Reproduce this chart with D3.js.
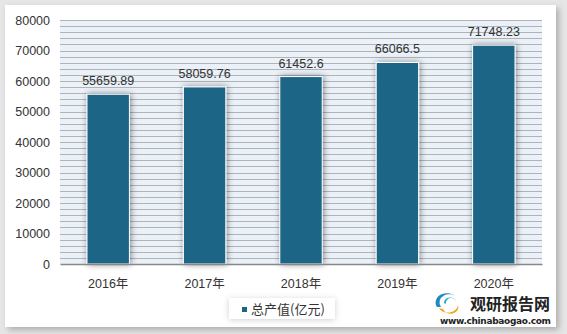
<!DOCTYPE html>
<html>
<head>
<meta charset="utf-8">
<script src="https://cdn.jsdelivr.net/npm/d3@7"></script>
<style>
  body { margin: 0; background: #e6e6e6; }
  svg { display: block; font-family: "Liberation Sans", Arial, sans-serif; }
</style>
</head>
<body>
<svg id="chart" width="567" height="334"></svg>
<script>
var years = ['2016年', '2017年', '2018年', '2019年', '2020年'];
var values = [55659.89, 58059.76, 61452.6, 66066.5, 71748.23];
var valueLabels = ['55659.89', '58059.76', '61452.6', '66066.5', '71748.23'];
var yTicks = [0, 10000, 20000, 30000, 40000, 50000, 60000, 70000, 80000];
var seriesName = '总产值(亿元)';

var svg = d3.select('#chart');
var defs = svg.append('defs');

var cardShadow = defs.append('filter').attr('id', 'cardShadow')
  .attr('x', '-5%').attr('y', '-5%').attr('width', '115%').attr('height', '115%');
cardShadow.append('feDropShadow').attr('dx', 3).attr('dy', 3)
  .attr('stdDeviation', 3).attr('flood-color', '#000').attr('flood-opacity', 0.25);

var barShadow = defs.append('filter').attr('id', 'barShadow')
  .attr('x', '-40%').attr('y', '-20%').attr('width', '180%').attr('height', '140%');
barShadow.append('feDropShadow').attr('dx', 1).attr('dy', 0)
  .attr('stdDeviation', 3).attr('flood-color', '#000').attr('flood-opacity', 0.45);

var legendShadow = defs.append('filter').attr('id', 'legendShadow')
  .attr('x', '-30%').attr('y', '-60%').attr('width', '160%').attr('height', '220%');
legendShadow.append('feDropShadow').attr('dx', 0).attr('dy', 1)
  .attr('stdDeviation', 3).attr('flood-color', '#000').attr('flood-opacity', 0.18);

// card
svg.append('rect').attr('x', 5).attr('y', 5).attr('width', 551).attr('height', 322)
  .attr('fill', '#fff').attr('filter', 'url(#cardShadow)');

var margin = { left: 60, right: 542, top: 20, bottom: 264 };

var x = d3.scaleBand().domain(years).range([margin.left, margin.right]).paddingInner(0.56).paddingOuter(0.28);
var y = d3.scaleLinear().domain([0, 80000]).range([margin.bottom, margin.top]);

// plot background
svg.append('rect').attr('x', margin.left).attr('y', margin.top)
  .attr('width', margin.right - margin.left).attr('height', margin.bottom - margin.top)
  .attr('fill', '#eaf1f9');

// grid lines every 2000
svg.append('g').selectAll('line').data(d3.range(2000, 80001, 2000)).join('line')
  .attr('x1', margin.left).attr('x2', margin.right)
  .attr('y1', d => Math.round(y(d)) + 0.5).attr('y2', d => Math.round(y(d)) + 0.5)
  .attr('stroke', '#b3b3b3').attr('stroke-width', 1);

// y axis labels
var yAxis = svg.append('g').attr('transform', 'translate(' + (margin.left - 10) + ',0)')
  .call(d3.axisLeft(y).tickValues(yTicks).tickSize(0).tickPadding(0).tickFormat(d3.format('d')));
yAxis.select('.domain').remove();
yAxis.selectAll('text').attr('font-size', 12.5).attr('fill', '#333')
  .attr('font-family', '"Liberation Sans", Arial, sans-serif');

// bars
svg.append('g').selectAll('rect').data(values).join('rect')
  .attr('x', (d, i) => x(years[i]))
  .attr('y', d => y(d))
  .attr('width', x.bandwidth())
  .attr('height', d => y(0) - y(d))
  .attr('fill', '#1c6587')
  .attr('stroke', '#fff').attr('stroke-width', 1)
  .attr('filter', 'url(#barShadow)');

// value labels
svg.append('g').selectAll('text').data(values).join('text')
  .attr('x', (d, i) => x(years[i]) + x.bandwidth() / 2)
  .attr('y', d => y(d) - 9)
  .attr('text-anchor', 'middle')
  .attr('font-size', 12.5).attr('fill', '#333')
  .text((d, i) => valueLabels[i]);

// x axis
var xAxis = svg.append('g').attr('transform', 'translate(0,' + margin.bottom + ')')
  .call(d3.axisBottom(x).tickSize(0).tickPadding(15));
xAxis.select('.domain').attr('stroke', '#888').attr('stroke-width', 1.5);
xAxis.selectAll('text').attr('font-size', 12.5).attr('fill', '#333')
  .attr('font-family', '"Liberation Sans", "Noto Sans CJK SC", sans-serif');

// legend
var legend = svg.append('g').attr('transform', 'translate(229,298)');
legend.append('rect').attr('width', 106).attr('height', 21).attr('fill', '#fff')
  .attr('filter', 'url(#legendShadow)');
legend.append('rect').attr('x', 13).attr('y', 9).attr('width', 5).attr('height', 5).attr('fill', '#1c6587');
legend.append('text').attr('x', 22).attr('y', 15.5).attr('font-size', 13).attr('fill', '#333')
  .attr('font-family', '"Noto Sans CJK SC", sans-serif').text(seriesName);

// watermark
var wm = svg.append('g').attr('transform', 'translate(436,294)');
wm.append('path').attr('d', 'M1,13 A11,9 0 0 1 21,4 A8,7 0 0 0 5,13 Z').attr('fill', '#1f8ac0');
wm.append('path').attr('d', 'M3,14 A10,8 0 0 0 22,11 A7,6 0 0 1 7,15 Z').attr('fill', '#f4a11d');
wm.append('path').attr('d', 'M8,9 A6,5 0 0 1 20,8 A4,4 0 0 0 10,10 Z').attr('fill', '#29a9d8');
wm.append('text').attr('x', 34).attr('y', 16).attr('font-size', 16).attr('font-weight', 'bold')
  .attr('fill', '#222').attr('font-family', '"Noto Sans CJK SC", sans-serif').text('观研报告网');
wm.append('text').attr('x', 4).attr('y', 30).attr('font-size', 9).attr('font-weight', 'bold')
  .attr('fill', '#222').attr('font-family', '"DejaVu Sans", sans-serif')
  .attr('textLength', 111).text('www.chinabaogao.com');
</script>
</body>
</html>
